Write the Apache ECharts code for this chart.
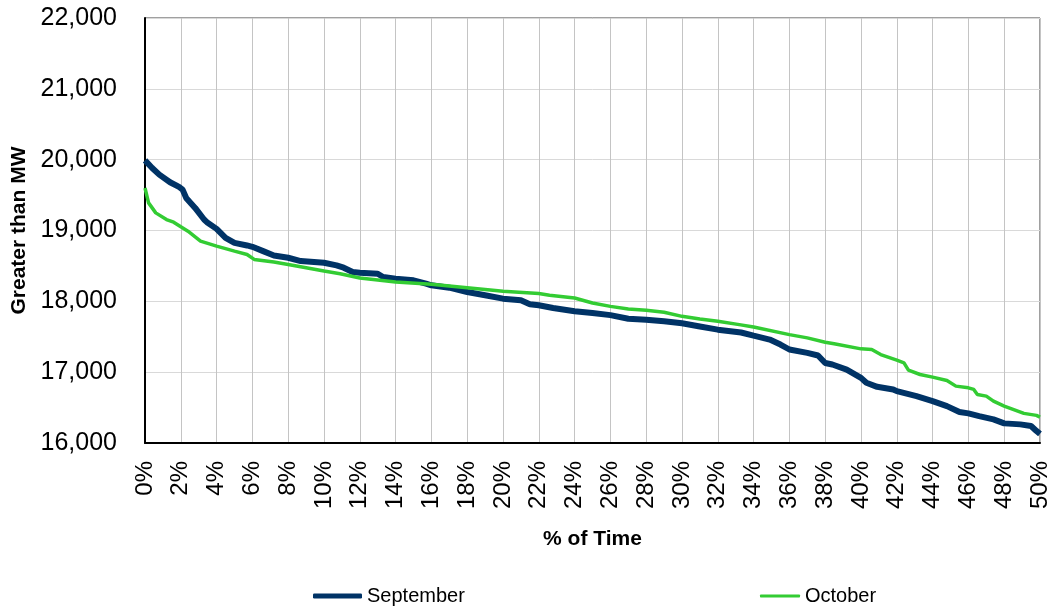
<!DOCTYPE html>
<html>
<head>
<meta charset="utf-8">
<script src="https://cdn.jsdelivr.net/npm/echarts@6/dist/echarts.min.js"></script>
<style>
  html, body { margin: 0; padding: 0; background: #fff; }
  #chart { width: 1057px; height: 612px; }
</style>
</head>
<body>
<div id="chart"></div>
<script>
  // duration curve, % of time the load is above a given MW
  var septPct = [0, 0.1, 0.4, 0.8, 1.4, 1.9, 2.1, 2.3, 2.8, 3.3, 3.5, 4, 4.5, 5, 5.7, 6, 6.6, 7.2, 8, 8.7,
    10, 10.7, 11.1, 11.6, 12, 13, 13.3, 14, 15, 15.7, 16, 17, 18, 19, 20, 21, 21.5, 22, 22.8, 24,
    25, 26, 27, 28, 29, 30, 31, 32, 33.3, 34, 34.9, 35.5, 36, 37, 37.6, 38, 38.4, 39.2, 40, 40.3,
    40.9, 41.8, 42, 43.1, 44, 44.8, 45.5, 46, 46.6, 47.4, 48, 48.9, 49.5, 49.8, 50];
  var septMW = [19990, 19977, 19883, 19789, 19681, 19615, 19577, 19460, 19319, 19155, 19108, 19023, 18897, 18826, 18789, 18770, 18709, 18648, 18615, 18568,
    18545, 18507, 18475, 18414, 18405, 18390, 18344, 18320, 18297, 18250, 18226, 18193, 18132, 18085, 18038, 18014, 17958, 17944, 17906, 17859,
    17835, 17805, 17755, 17741, 17718, 17690, 17645, 17600, 17560, 17515, 17460, 17390, 17320, 17272, 17235, 17130, 17108, 17037, 16920, 16850,
    16793, 16756, 16732, 16662, 16592, 16521, 16437, 16418, 16380, 16333, 16277, 16263, 16240, 16170, 16130];

  var octPct = [0, 0.2, 0.6, 1.2, 1.6, 2, 2.4, 3.1, 4, 5, 5.7, 6.1, 7.2, 8, 9, 10, 10.9, 12, 14, 16,
    18, 20, 22, 22.6, 24, 25, 26, 27, 28, 29, 30, 31, 32, 33.2, 34, 36, 37, 38, 38.5, 40,
    40.6, 41.1, 42, 42.4, 42.65, 43.3, 44, 44.8, 45.3, 46, 46.3, 46.5, 47, 47.4, 48, 49.1, 49.8, 50];
  var octMW = [19600, 19390, 19249, 19155, 19117, 19052, 18990, 18850, 18779, 18709, 18662, 18592, 18554, 18521, 18474, 18427, 18390, 18330, 18273, 18240,
    18193, 18141, 18110, 18085, 18047, 17976, 17929, 17892, 17873, 17845, 17788, 17751, 17718, 17671, 17638, 17530, 17484, 17423, 17400, 17329,
    17320, 17249, 17169, 17131, 17028, 16967, 16930, 16883, 16803, 16779, 16756, 16685, 16662, 16592, 16521, 16418, 16390, 16366];

  var yTicks = [16000, 17000, 18000, 19000, 20000, 21000, 22000];

  function pairs(xs, ys) {
    var out = [];
    for (var i = 0; i < xs.length; i++) {
      out.push([xs[i], ys[i]]);
    }
    return out;
  }

  var myChart = echarts.init(document.getElementById('chart'));
  var font = 'Liberation Sans, Arial, sans-serif';
  var legendText = { fontFamily: font, fontSize: 20, color: '#000' };

  var option = {
    backgroundColor: '#fff',
    animation: false,
    grid: {
      left: 145,
      right: 17,
      top: 18,
      bottom: 169,
      outerBoundsMode: 'none',
      show: true,
      borderColor: '#404040',
      borderWidth: 1
    },
    legend: [{
      data: ['September'],
      left: 313,
      top: 586,
      padding: 0,
      icon: 'roundRect',
      itemWidth: 49,
      itemHeight: 5,
      textStyle: legendText
    }, {
      data: ['October'],
      left: 760,
      top: 586,
      padding: 0,
      icon: 'roundRect',
      itemWidth: 40,
      itemHeight: 3,
      textStyle: legendText
    }],
    xAxis: {
      type: 'value',
      min: 0,
      max: 50,
      interval: 2,
      name: '% of Time',
      nameLocation: 'middle',
      nameGap: 86,
      nameTextStyle: { fontFamily: font, fontSize: 21, fontWeight: 'bold', color: '#000' },
      axisLine: { lineStyle: { color: '#000', width: 2 } },
      axisTick: { show: false },
      axisLabel: {
        rotate: 90,
        margin: 18,
        fontFamily: font,
        fontSize: 24,
        color: '#000',
        formatter: '{value}%'
      },
      splitLine: { show: true, lineStyle: { color: '#c4c4c4', width: 1 } }
    },
    yAxis: {
      type: 'value',
      min: yTicks[0],
      max: yTicks[yTicks.length - 1],
      interval: 1000,
      name: 'Greater than MW',
      nameLocation: 'middle',
      nameGap: 114,
      nameTextStyle: { fontFamily: font, fontSize: 21, fontWeight: 'bold', color: '#000' },
      axisLine: { show: true, lineStyle: { color: '#000', width: 2 } },
      axisTick: { show: false },
      axisLabel: {
        margin: 28,
        fontFamily: font,
        fontSize: 25,
        color: '#000',
        formatter: function (val) {
          return val.toLocaleString('en-US');
        }
      },
      splitLine: { show: true, lineStyle: { color: '#d9d9d9', width: 1 } }
    },
    series: [{
      name: 'September',
      type: 'line',
      showSymbol: false,
      color: '#003366',
      lineStyle: { width: 6, color: '#003366' },
      data: pairs(septPct, septMW)
    }, {
      name: 'October',
      type: 'line',
      showSymbol: false,
      color: '#33cc33',
      lineStyle: { width: 3.5, color: '#33cc33' },
      data: pairs(octPct, octMW)
    }]
  };

  myChart.setOption(option);
</script>
</body>
</html>
